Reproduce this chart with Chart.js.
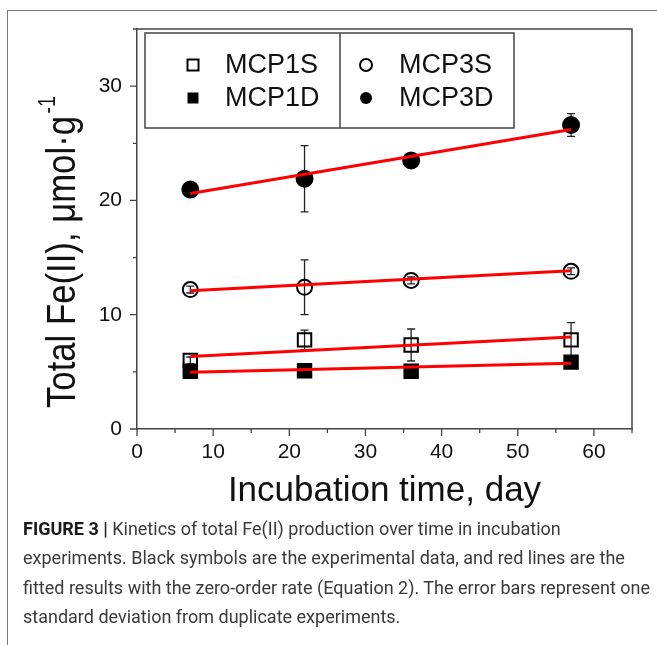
<!DOCTYPE html>
<html><head><meta charset="utf-8">
<script src="https://cdn.jsdelivr.net/npm/chart.js@4.4.1/dist/chart.umd.min.js"></script>
<style>
html,body{margin:0;padding:0;background:#fff;width:657px;height:645px;overflow:hidden;}
#frame{position:absolute;left:7px;top:10px;width:660px;height:640px;border-left:1.5px solid #777;border-top:1.5px solid #777;}
#wrap{position:absolute;left:0;top:0;width:657px;height:520px;}
#caption{position:absolute;left:23px;top:514px;font-family:Roboto,"Liberation Sans",Arial,sans-serif;font-size:18px;line-height:29.3px;color:#3a3a3a;white-space:nowrap;}
#caption b{color:#1a1a1a;font-weight:700;}
</style></head>
<body>
<div id="frame"></div>
<div id="wrap"><canvas id="c"></canvas></div>
<div id="caption"></div>
<script>
// ---- data ----
const days = [7, 22, 36, 57];
const seriesLabels = ['MCP1S', 'MCP1D', 'MCP3S', 'MCP3D'];
const mcp1s = [6.0, 7.8, 7.35, 7.8];
const mcp1sErr = [0.3, 0.85, 1.4, 1.5];
const mcp1d = [5.05, 5.1, 5.05, 5.85];
const mcp1dErr = [0.2, 0.2, 0.2, 0.25];
const mcp3s = [12.2, 12.4, 13.0, 13.8];
const mcp3sErr = [0.3, 2.4, 0.3, 0.3];
const mcp3d = [20.95, 21.9, 23.5, 26.6];
const mcp3dErr = [0.3, 2.9, 0.4, 1.0];
const fitDays = [7, 57];
const fit1s = [6.35, 8.05];
const fit1d = [4.97, 5.75];
const fit3s = [12.1, 13.85];
const fit3d = [20.6, 26.2];
const xTickLabels = [0, 10, 20, 30, 40, 50, 60];
const yTickLabels = [0, 10, 20, 30];
const xTitle = 'Incubation time, day';
const yTitle = 'Total Fe(II), \u03bcmol\u00b7g';
const yTitleSup = '-1';
const captionBold = 'FIGURE 3 |';
const captionLines = [
  ' Kinetics of total Fe(II) production over time in incubation',
  'experiments. Black symbols are the experimental data, and red lines are the',
  'fitted results with the zero-order rate (Equation 2). The error bars represent one',
  'standard deviation from duplicate experiments.'
];

// caption as HTML text, one span per line; font size fitted so line 3 spans the reference width
(function(){
  const cap = document.getElementById('caption');
  const spans = [];
  captionLines.forEach((t, i) => {
    if (i > 0) cap.appendChild(document.createElement('br'));
    const sp = document.createElement('span');
    if (i === 0) {
      const b = document.createElement('b'); b.textContent = captionBold;
      sp.appendChild(b);
    }
    sp.appendChild(document.createTextNode(t));
    cap.appendChild(sp);
    spans.push(sp);
  });
  const w = spans[2].getBoundingClientRect().width;
  if (w > 0) cap.style.fontSize = (18 * 627 / w).toFixed(2) + 'px';
})();

const pts = (xs, ys) => xs.map((x, i) => ({x: x, y: ys[i]}));
const AXIS = '#444';
const FONT = '"Liberation Sans", Arial, Helvetica, sans-serif';
Chart.defaults.font.family = FONT;
Chart.defaults.color = '#111';

const errorBars = {
  id: 'errorBars',
  beforeDatasetsDraw(chart) {
    const ctx = chart.ctx, xs = chart.scales.x, ys = chart.scales.y;
    ctx.save();
    ctx.strokeStyle = '#222';
    ctx.lineWidth = 1.3;
    chart.data.datasets.forEach(ds => {
      if (!ds.errors) return;
      ds.data.forEach((p, i) => {
        const e = ds.errors[i];
        const x = xs.getPixelForValue(p.x);
        const y1 = ys.getPixelForValue(p.y + e), y2 = ys.getPixelForValue(p.y - e);
        ctx.beginPath();
        ctx.moveTo(x, y1); ctx.lineTo(x, y2);
        ctx.moveTo(x - 4, y1); ctx.lineTo(x + 4, y1);
        ctx.moveTo(x - 4, y2); ctx.lineTo(x + 4, y2);
        ctx.stroke();
      });
    });
    ctx.restore();
  }
};

const frameTicks = {
  id: 'frameTicks',
  afterDraw(chart) {
    const ctx = chart.ctx, a = chart.chartArea, xs = chart.scales.x, ys = chart.scales.y;
    ctx.save();
    ctx.strokeStyle = AXIS;
    ctx.lineWidth = 1.5;
    ctx.beginPath();
    ctx.moveTo(a.left, a.top); ctx.lineTo(a.right, a.top); ctx.lineTo(a.right, a.bottom);
    ctx.stroke();
    ctx.lineWidth = 1.3;
    ctx.beginPath();
    xs.ticks.forEach(t => {
      const x = xs.getPixelForValue(t.value);
      const len = (t.value % 10 === 0) ? 7 : 4;
      ctx.moveTo(x, a.bottom); ctx.lineTo(x, a.bottom + len);
    });
    ys.ticks.forEach(t => {
      const y = ys.getPixelForValue(t.value);
      const len = (t.value % 10 === 0) ? 7 : 4;
      ctx.moveTo(a.left, y); ctx.lineTo(a.left - len, y);
    });
    ctx.stroke();
    ctx.restore();
  }
};

const yTitlePlugin = {
  id: 'yTitlePlugin',
  afterDraw(chart) {
    const ctx = chart.ctx;
    ctx.save();
    ctx.translate(75, 408);
    ctx.rotate(-Math.PI / 2);
    ctx.fillStyle = '#111';
    ctx.textBaseline = 'alphabetic';
    ctx.textAlign = 'left';
    const fs = 41;
    ctx.font = fs + 'px ' + FONT;
    const w = ctx.measureText(yTitle).width;
    const sx = 292 / w;
    ctx.scale(sx, 1);
    ctx.fillText(yTitle, 0, 0);
    ctx.font = Math.round(fs * 0.55) + 'px ' + FONT;
    ctx.fillText(yTitleSup, w + 3, -fs * 0.5);
    ctx.restore();
  }
};

const boxLegend = {
  id: 'boxLegend',
  afterDraw(chart) {
    const ctx = chart.ctx;
    const L = 145, R = 514, T = 33, B = 128, D = 340;
    ctx.save();
    ctx.strokeStyle = '#444';
    ctx.lineWidth = 1.5;
    ctx.strokeRect(L, T, R - L, B - T);
    ctx.beginPath(); ctx.moveTo(D, T); ctx.lineTo(D, B); ctx.stroke();
    const colMarker = [193, 366], colText = [225, 399], rowY = [65, 98];
    ctx.font = '27px ' + FONT;
    ctx.textBaseline = 'middle';
    ctx.textAlign = 'left';
    chart.data.datasets.forEach(ds => {
      if (ds.legendCol === undefined) return;
      const mx = colMarker[ds.legendCol], my = rowY[ds.legendRow];
      ctx.lineWidth = 2;
      ctx.strokeStyle = '#000';
      ctx.fillStyle = '#000';
      ctx.beginPath();
      if (ds.pointStyle === 'rect') {
        ctx.rect(mx - 5.5, my - 5.5, 11, 11);
      } else {
        ctx.arc(mx, my, 6, 0, Math.PI * 2);
      }
      if (ds.filled) ctx.fill(); else ctx.stroke();
      ctx.fillStyle = '#111';
      ctx.fillText(ds.label, colText[ds.legendCol], my + 1);
    });
    ctx.restore();
  }
};

const scatterDs = (label, ys, errs, style, filled, col, row, order, r) => ({
  type: 'scatter', label: label, data: pts(days, ys), errors: errs,
  pointStyle: style, pointRadius: r, pointHoverRadius: r,
  backgroundColor: filled ? '#000' : 'rgba(0,0,0,0)', borderColor: '#000',
  pointBorderWidth: 2, borderWidth: 2, showLine: false,
  filled: filled, legendCol: col, legendRow: row, order: order
});
const fitDs = (ys) => ({
  type: 'line', label: 'fit', data: pts(fitDays, ys), borderColor: '#ff0000',
  borderWidth: 3, pointRadius: 0, fill: false, order: 0, tension: 0
});

new Chart(document.getElementById('c'), {
  type: 'scatter',
  data: {
    datasets: [
      scatterDs(seriesLabels[0], mcp1s, mcp1sErr, 'rect', false, 0, 0, 3, 9.5),
      scatterDs(seriesLabels[1], mcp1d, mcp1dErr, 'rect', true, 0, 1, 1, 9.5),
      scatterDs(seriesLabels[2], mcp3s, mcp3sErr, 'circle', false, 1, 0, 3, 7.5),
      scatterDs(seriesLabels[3], mcp3d, mcp3dErr, 'circle', true, 1, 1, 2, 8),
      fitDs(fit1s), fitDs(fit1d), fitDs(fit3s), fitDs(fit3d)
    ]
  },
  options: {
    responsive: true, maintainAspectRatio: false, animation: false,
    layout: {padding: {left: 0, right: 25, top: 29, bottom: 8}},
    plugins: {legend: {display: false}, tooltip: {enabled: false}},
    scales: {
      x: {
        type: 'linear', min: 0, max: 65,
        afterFit: s => { s.height = 83; },
        grid: {display: false, drawTicks: false},
        border: {display: true, color: AXIS, width: 1.5},
        ticks: {stepSize: 5, padding: 11, color: '#111', font: {size: 21},
          callback: v => xTickLabels.includes(v) ? String(v) : ''},
        title: {display: true, text: xTitle, color: '#111', font: {size: 35}, padding: {top: 0, bottom: 0}}
      },
      y: {
        type: 'linear', min: 0, max: 35,
        afterFit: s => { s.width = 137; },
        grid: {display: false, drawTicks: false},
        border: {display: true, color: AXIS, width: 1.5},
        ticks: {stepSize: 5, padding: 15, color: '#111', font: {size: 21},
          callback: v => yTickLabels.includes(v) ? String(v) : ''}
      }
    }
  },
  plugins: [errorBars, frameTicks, yTitlePlugin, boxLegend]
});
</script>
</body></html>
